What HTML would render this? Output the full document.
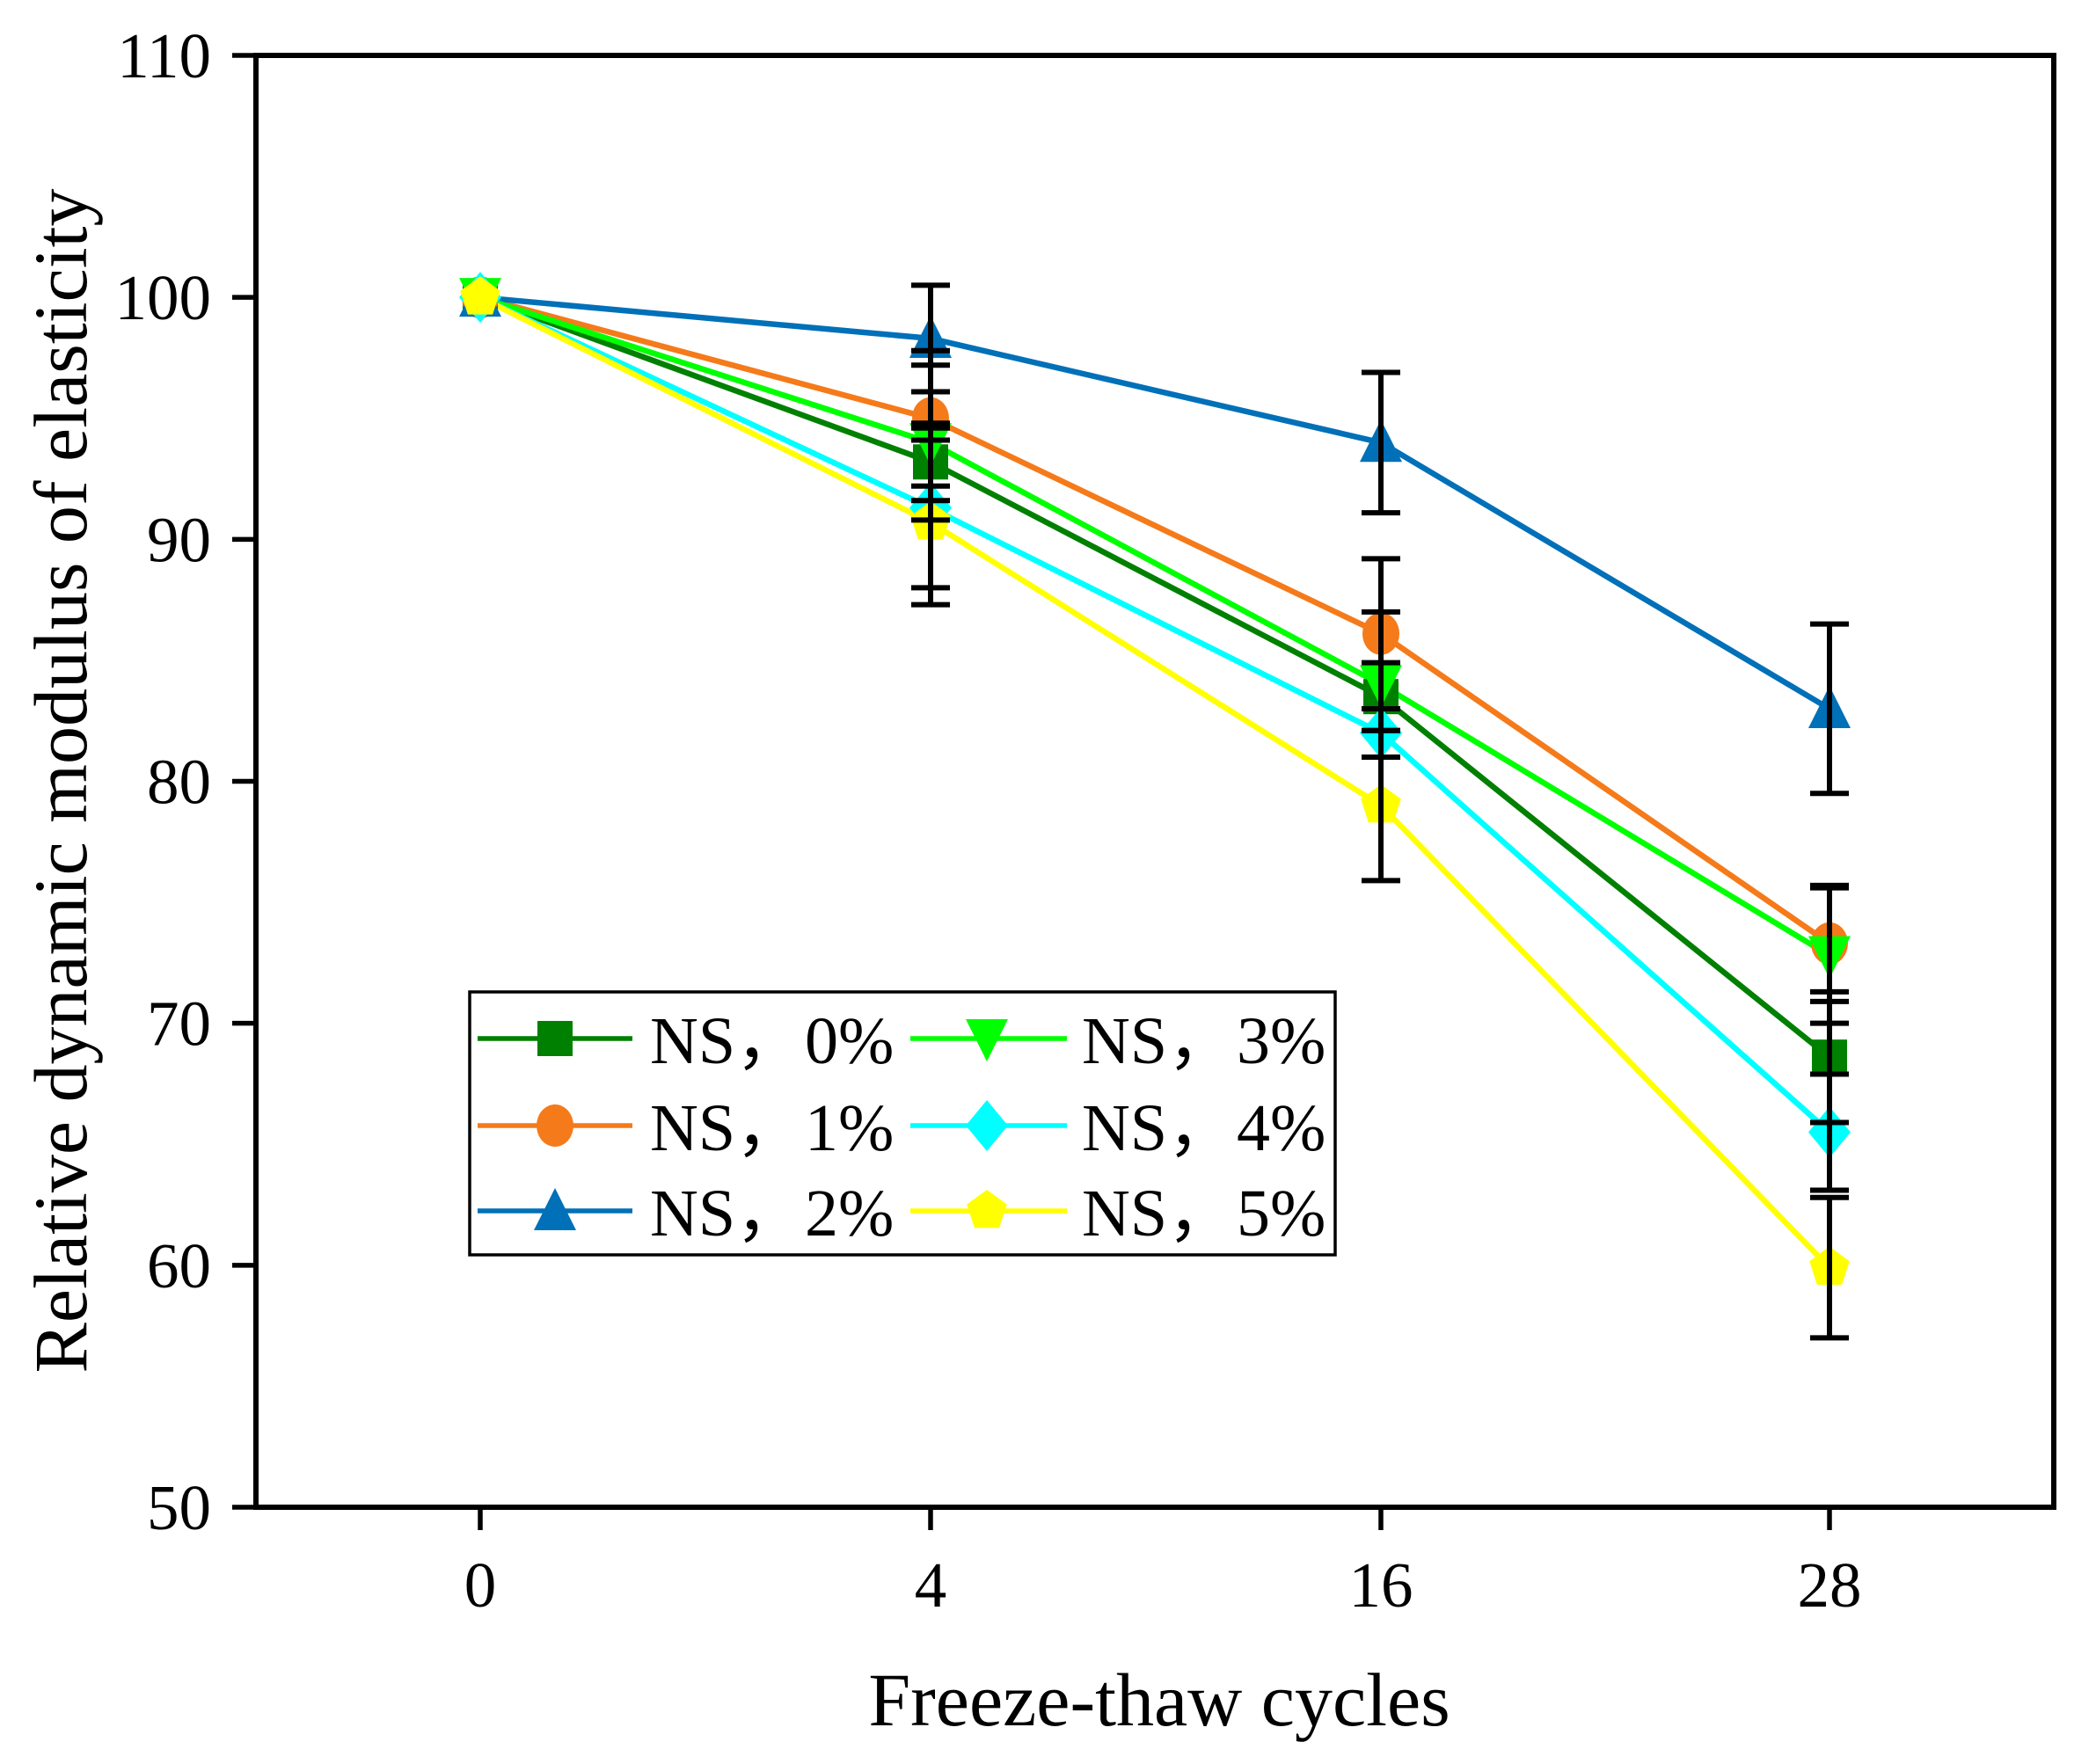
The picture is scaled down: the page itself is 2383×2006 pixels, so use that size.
<!DOCTYPE html>
<html><head><meta charset="utf-8"><style>html,body{margin:0;padding:0;background:#fff}svg{display:block}</style></head>
<body>
<svg id="s" width="2383" height="2006" viewBox="0 0 2383 2006" xmlns="http://www.w3.org/2000/svg" font-family="Liberation Serif, serif"></svg>
<script>
const L=291,R=2335,T=63,B=1714;
const X=[546,1058,1570,2080];
const Y=v=>B-(v-50)*(B-T)/60;
const S=[
 {c:'#008000',m:'sq',v:[100,93.2,83.5,68.6],e:[0,1.6,1.4,2.7]},
 {c:'#F57A1A',m:'ci',v:[100,95,86.1,73.3],e:[0,2.8,3.1,2.4]},
 {c:'#0070B8',m:'tu',v:[100,98.3,94,83],e:[0,2.2,2.9,3.5]},
 {c:'#00FF00',m:'td',v:[100,94,84,72.8],e:[0,3.2,3,2.8]},
 {c:'#00FFFF',m:'di',v:[100,91.3,82,65.5],e:[0,3.3,1,2.4]},
 {c:'#FFFF00',m:'pe',v:[100,90.7,79,59.9],e:[0,3.4,3.1,2.9]}];
function mk(t,x,y,c){const r=24;
 if(t=='sq')return `<rect x="${x-r+4}" y="${y-r+4}" width="${2*r-8}" height="${2*r-8}" fill="${c}"/>`;
 if(t=='ci')return `<ellipse cx="${x}" cy="${y}" rx="${r-3}" ry="${r}" fill="${c}"/>`;
 if(t=='tu')return `<polygon points="${x},${y-r-2} ${x-r},${y+r-2} ${x+r},${y+r-2}" fill="${c}"/>`;
 if(t=='td')return `<polygon points="${x},${y+r+2} ${x-r},${y-r+2} ${x+r},${y-r+2}" fill="${c}"/>`;
 if(t=='di')return `<polygon points="${x},${y-r-5} ${x+r},${y} ${x},${y+r+5} ${x-r},${y}" fill="${c}"/>`;
 let p=[];for(let i=0;i<5;i++){const a=-Math.PI/2+i*2*Math.PI/5;p.push((x+r*Math.cos(a)).toFixed(1)+','+(y+r*Math.sin(a)).toFixed(1));}
 return `<polygon points="${p.join(' ')}" fill="${c}"/>`;}
let h='<rect width="2383" height="2006" fill="#fff"/>';
S.forEach(s=>{h+=`<polyline fill="none" stroke="${s.c}" stroke-width="6.5" points="${s.v.map((v,i)=>X[i]+','+Y(v).toFixed(1)).join(' ')}"/>`;});
S.forEach(s=>{s.v.forEach((v,i)=>{h+=mk(s.m,X[i],Y(v),s.c);});});
S.forEach(s=>{s.v.forEach((v,i)=>{if(!s.e[i])return;const a=Y(v-s.e[i]),b=Y(v+s.e[i]);
 h+=`<g stroke="#000" stroke-width="6"><line x1="${X[i]}" y1="${a}" x2="${X[i]}" y2="${b}"/><line x1="${X[i]-22}" y1="${a}" x2="${X[i]+22}" y2="${a}"/><line x1="${X[i]-22}" y1="${b}" x2="${X[i]+22}" y2="${b}"/></g>`;});});
h+=`<rect x="${L}" y="${T}" width="${R-L}" height="${B-T}" fill="none" stroke="#000" stroke-width="6"/>`;
for(let v=50;v<=110;v+=10){const y=Y(v);h+=`<line x1="264" y1="${y}" x2="${L}" y2="${y}" stroke="#000" stroke-width="5.5"/><text x="240" y="${y+25}" font-size="73" text-anchor="end">${v}</text>`;}
['0','4','16','28'].forEach((t,i)=>{h+=`<line x1="${X[i]}" y1="${B}" x2="${X[i]}" y2="1740" stroke="#000" stroke-width="5.5"/><text x="${X[i]}" y="1827" font-size="73" text-anchor="middle">${t}</text>`;});
h+=`<text x="1318" y="1962" font-size="86" text-anchor="middle">Freeze-thaw cycles</text>`;
h+=`<text transform="translate(98,888) rotate(-90)" font-size="86" text-anchor="middle">Relative dynamic modulus of elasticity</text>`;
h+=`<rect x="534" y="1128" width="984" height="299" fill="#fff" stroke="#000" stroke-width="3.5"/>`;
const rows=[1181,1280,1377];const lab=['0%','1%','2%','3%','4%','5%'];
S.forEach((s,i)=>{const col=i<3?0:1,y=rows[i%3];const x1=col?1035:543,x2=col?1213:719,mx=col?1122:631,tx=col?1230:739;
 h+=`<line x1="${x1}" y1="${y}" x2="${x2}" y2="${y}" stroke="${s.c}" stroke-width="5.5"/>`+mk(s.m,mx,y,s.c);
 h+=`<text x="${tx}" y="${y+28}" font-size="76" font-family="Liberation Serif, Noto Serif CJK SC, serif">NS<tspan font-family="Noto Sans CJK SC, sans-serif">，</tspan><tspan x="${tx+176}">${lab[i]}</tspan></text>`;});
document.getElementById('s').innerHTML=h;
</script>
</body></html>
